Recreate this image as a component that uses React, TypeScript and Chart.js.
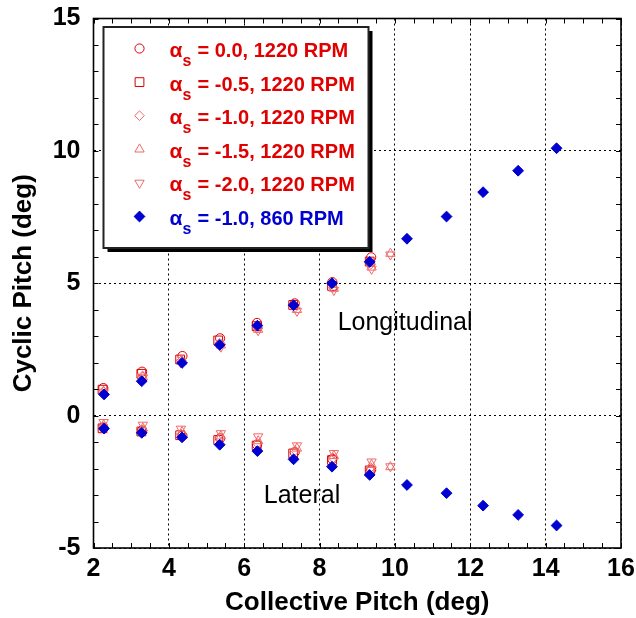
import React, { useEffect, useRef } from "react";
import { Chart, registerables } from "chart.js";
import { drawPoint } from "chart.js/helpers";
Chart.register(...registerables);

// ---- data ----
const xBlue = [2.28, 3.28, 4.35, 5.35, 6.35, 7.31, 8.33, 9.33, 10.32, 11.37, 12.34, 13.27, 14.29];
const longBlue = [0.8, 1.3, 1.99, 2.67, 3.4, 4.17, 5.0, 5.81, 6.68, 7.52, 8.44, 9.25, 10.1];
const latBlue = [-0.49, -0.65, -0.82, -1.1, -1.34, -1.65, -1.93, -2.24, -2.62, -2.93, -3.4, -3.75, -4.15];

const xA00 = [2.26, 3.29, 4.36, 5.36, 6.34, 7.34, 8.34, 9.37];
const longA00 = [1.04, 1.66, 2.25, 2.92, 3.5, 4.24, 5.04, 5.98];
const latA00 = [-0.45, -0.56, -0.76, -0.86, -1.1, -1.38, -1.64, -2.04];

const xA05 = [2.24, 3.27, 4.3, 5.31, 6.33, 7.3, 8.33, 9.33];
const longA05 = [0.98, 1.58, 2.12, 2.84, 3.38, 4.18, 4.9, 5.82];
const latA05 = [-0.48, -0.6, -0.74, -0.92, -1.13, -1.43, -1.68, -2.07];

const xA10 = [2.26, 3.3, 4.33, 5.35, 6.35, 7.35, 8.36, 9.36];
const longA10 = [0.92, 1.5, 2.08, 2.74, 3.3, 4.08, 4.84, 5.72];
const latA10 = [-0.42, -0.55, -0.7, -0.84, -1.05, -1.32, -1.6, -1.96];

const xA15 = [2.27, 3.31, 4.35, 5.38, 6.37, 7.4, 8.38, 9.38, 9.88];
const longA15 = [0.9, 1.46, 2.05, 2.66, 3.25, 4.0, 4.8, 5.6, 6.12];
const latA15 = [-0.36, -0.48, -0.62, -0.78, -0.96, -1.24, -1.52, -1.86, -1.94];

const xA20 = [2.27, 3.31, 4.32, 5.38, 6.37, 7.4, 8.38, 9.38, 9.88];
const longA20 = [0.87, 1.44, 2.0, 2.6, 3.22, 3.95, 4.74, 5.54, 6.08];
const latA20 = [-0.25, -0.35, -0.5, -0.67, -0.79, -1.13, -1.42, -1.74, -1.92];

const seriesLabels = [
  "= 0.0, 1220 RPM",
  "= -0.5, 1220 RPM",
  "= -1.0, 1220 RPM",
  "= -1.5, 1220 RPM",
  "= -2.0, 1220 RPM",
  "= -1.0, 860 RPM",
];

const xTickMin = 2;
const xTickMax = 16;
const yTickMin = -5;
const yTickMax = 15;

const annLongitudinal = { text: "Longitudinal", x: 8.48, y: 3.24 };
const annLateral = { text: "Lateral", x: 6.52, y: -3.3 };

// ---- styles ----
const RED = "#e00000";
const DARKRED = "#d40000";
const LIGHTRED = "#f06a6a";
const BLUE = "#0000d0";
const FONT = 'Arial, "Liberation Sans", sans-serif';

const styles = [
  { pointStyle: "circle", radius: 4.6, rotation: 0, color: RED, fill: "rgba(0,0,0,0)", text: RED },
  { pointStyle: "rect", radius: 6.2, rotation: 0, color: DARKRED, fill: "rgba(0,0,0,0)", text: RED },
  { pointStyle: "rectRot", radius: 4.8, rotation: 0, color: LIGHTRED, fill: "rgba(0,0,0,0)", text: RED },
  { pointStyle: "triangle", radius: 5.4, rotation: 0, color: LIGHTRED, fill: "rgba(0,0,0,0)", text: RED },
  { pointStyle: "triangle", radius: 5.4, rotation: 180, color: LIGHTRED, fill: "rgba(0,0,0,0)", text: RED },
  { pointStyle: "rectRot", radius: 5.4, rotation: 0, color: BLUE, fill: BLUE, text: BLUE },
];

function pts(xs: number[], a: number[], b: number[]) {
  const out: { x: number; y: number }[] = [];
  xs.forEach((x, i) => out.push({ x, y: a[i] }));
  xs.forEach((x, i) => out.push({ x, y: b[i] }));
  return out;
}

const seriesData = [
  pts(xA00, longA00, latA00),
  pts(xA05, longA05, latA05),
  pts(xA10, longA10, latA10),
  pts(xA15, longA15, latA15),
  pts(xA20, longA20, latA20),
  pts(xBlue, longBlue, latBlue),
];

const framePlugin = {
  id: "frameAndLegend",
  afterDraw(chart: any) {
    const { ctx, chartArea: a, scales } = chart;
    const xs = scales.x;
    const ys = scales.y;
    ctx.save();
    const line = (x1: number, y1: number, x2: number, y2: number) => {
      ctx.beginPath();
      ctx.moveTo(x1, y1);
      ctx.lineTo(x2, y2);
      ctx.stroke();
    };
    ctx.setLineDash([]);
    ctx.strokeStyle = "#000";
    ctx.lineWidth = 1;
    const nx = Math.round((xTickMax - xTickMin) / 0.5);
    for (let i = 0; i <= nx; i++) {
      const px = Math.round(xs.getPixelForValue(xTickMin + i * 0.5)) + 0.5;
      line(px, a.bottom, px, a.bottom - 5);
      line(px, a.top, px, a.top + 5);
    }
    const ny = yTickMax - yTickMin;
    for (let i = 0; i <= ny; i++) {
      const py = Math.round(ys.getPixelForValue(yTickMin + i)) + 0.5;
      line(a.left, py, a.left + 5, py);
      line(a.right, py, a.right - 5, py);
    }
    ctx.lineWidth = 1.6;
    ctx.strokeRect(a.left, a.top, a.right - a.left, a.bottom - a.top);

    // annotations
    ctx.fillStyle = "#000";
    ctx.font = `25px ${FONT}`;
    ctx.textAlign = "left";
    ctx.textBaseline = "alphabetic";
    for (const an of [annLongitudinal, annLateral]) {
      ctx.fillText(an.text, xs.getPixelForValue(an.x), ys.getPixelForValue(an.y));
    }

    // legend box
    const bx = a.left + 10;
    const by = a.top + 8.5;
    const bw = 265;
    const bh = 221;
    ctx.fillStyle = "#000";
    ctx.fillRect(bx + 4, by + 4, bw, bh);
    ctx.fillStyle = "#fff";
    ctx.fillRect(bx, by, bw, bh);
    ctx.strokeStyle = "#222";
    ctx.lineWidth = 2;
    ctx.strokeRect(bx, by, bw, bh);

    styles.forEach((s, i) => {
      const my = by + 21.5 + i * 33.6;
      const mx = bx + 36;
      ctx.strokeStyle = s.color;
      ctx.fillStyle = s.fill === "rgba(0,0,0,0)" ? "#fff" : s.fill;
      ctx.lineWidth = 1;
      drawPoint(ctx, { pointStyle: s.pointStyle as any, radius: s.radius, rotation: s.rotation, borderWidth: 1 } as any, mx, my);
      const base = by + 30 + i * 33.6;
      ctx.fillStyle = s.text;
      ctx.textAlign = "left";
      ctx.textBaseline = "alphabetic";
      ctx.font = `bold 21px ${FONT}`;
      ctx.fillText("\u03b1", bx + 66, base);
      ctx.font = `bold 16px ${FONT}`;
      ctx.fillText("s", bx + 79, base + 9);
      ctx.font = `bold 20px ${FONT}`;
      ctx.fillText(seriesLabels[i], bx + 94, base);
    });
    ctx.restore();
  },
};

export default function App() {
  const ref = useRef<HTMLCanvasElement | null>(null);
  useEffect(() => {
    if (!ref.current) return;
    const datasets = seriesData.map((d, i) => ({
      label: seriesLabels[i],
      data: d,
      showLine: false,
      pointStyle: styles[i].pointStyle as any,
      pointRadius: styles[i].radius,
      pointRotation: styles[i].rotation,
      pointBorderColor: styles[i].color,
      pointBackgroundColor: styles[i].fill,
      pointBorderWidth: 1,
      order: i === 5 ? 0 : 6 - i,
    }));
    const chart = new Chart(ref.current, {
      type: "scatter",
      data: { datasets },
      plugins: [framePlugin],
      options: {
        animation: false,
        responsive: false,
        devicePixelRatio: 1,
        layout: { padding: { top: 18.5, right: 15, left: 0, bottom: 0 } },
        plugins: { legend: { display: false }, tooltip: { enabled: false } },
        scales: {
          x: {
            type: "linear",
            min: xTickMin,
            max: xTickMax,
            ticks: { stepSize: 2, color: "#000", font: { family: FONT, size: 25, weight: "bold" }, padding: 6, maxRotation: 0 },
            grid: { color: "#000", lineWidth: 1, drawTicks: false },
            border: { display: false, dash: [2, 3] },
            title: { display: true, text: "Collective Pitch (deg)", color: "#000", font: { family: FONT, size: 26, weight: "bold" }, padding: { top: 0, bottom: 0 } },
            afterFit: (s: any) => {
              s.height = 70;
              s.paddingLeft = 0;
              s.paddingRight = 0;
            },
          },
          y: {
            type: "linear",
            min: yTickMin,
            max: yTickMax,
            ticks: { stepSize: 5, color: "#000", font: { family: FONT, size: 25, weight: "bold" }, padding: 13 },
            grid: { color: "#000", lineWidth: 1, drawTicks: false },
            border: { display: false, dash: [2, 3] },
            title: { display: true, text: "Cyclic Pitch (deg)", color: "#000", font: { family: FONT, size: 26, weight: "bold" }, padding: { top: 8, bottom: 0 } },
            afterFit: (s: any) => {
              s.width = 93.5;
              s.paddingTop = 0;
              s.paddingBottom = 0;
            },
          },
        },
      } as any,
    });
    return () => chart.destroy();
  }, []);
  return (
    <div style={{ position: "fixed", left: 0, top: 0, width: 636, height: 618, background: "#fff" }}>
      <canvas ref={ref} width={636} height={618} style={{ width: 636, height: 618 }} />
    </div>
  );
}
